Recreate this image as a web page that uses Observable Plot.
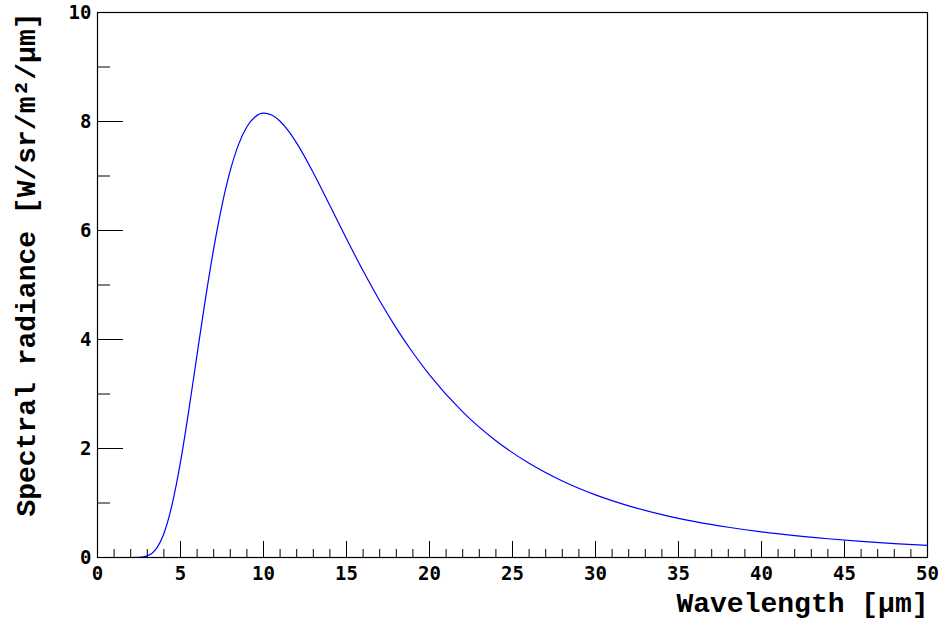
<!DOCTYPE html>
<html>
<head>
<meta charset="utf-8">
<script src="https://cdn.jsdelivr.net/npm/d3@7"></script>
<script src="https://cdn.jsdelivr.net/npm/@observablehq/plot@0.6"></script>
<style>
  html, body { margin: 0; padding: 0; background: #fff; }
  #chart { width: 940px; height: 618px; }
</style>
</head>
<body>
<div id="chart"></div>
<script>
// Data
const wavelength = [0,1,2,2.5,3,3.5,4,4.5,5,5.5,6,6.5,7,7.5,8,8.5,9,9.5,10,10.5,11,11.5,12,13,14,15,16,17,18,19,20,22,24,26,28,30,32,34,36,38,40,42,44,46,48,50];
const radiance   = [0,0,0.0001,0.0026,0.029,0.144,0.44,0.978,1.753,2.70,3.727,4.74,5.668,6.463,7.102,7.58,7.903,8.088,8.154,8.119,8.005,7.827,7.602,7.06,6.458,5.849,5.26,4.711,4.21,3.757,3.353,2.673,2.143,1.728,1.404,1.149,0.948,0.787,0.659,0.555,0.47,0.401,0.344,0.296,0.256,0.223];

const xMajor = [0,5,10,15,20,25,30,35,40,45,50];
const xMinor = d3.range(1, 50).filter(v => v % 5 !== 0);
const yMajor = [0,2,4,6,8,10];
const yMinor = [1,3,5,7,9];

const xTitle = "Wavelength [\u03bcm]";
const yTitle = "Spectral radiance [W/sr/m\u00b2/\u03bcm]";

const data = wavelength.map((w, i) => ({w, r: radiance[i]}));

const W = 940, H = 618;
const mL = 97, mR = 13, mT = 12, mB = 61;
const innerW = W - mL - mR, innerH = H - mT - mB;

const tickFont = "DejaVu Sans Mono";
const titleFont = "Liberation Mono";

const chart = Plot.plot({
  width: W,
  height: H,
  marginLeft: mL,
  marginRight: mR,
  marginTop: mT,
  marginBottom: mB,
  style: {background: "#fff", overflow: "visible"},
  x: {domain: [0, 50]},
  y: {domain: [0, 10]},
  marks: [
    // inward ticks
    Plot.ruleX(xMajor, {x: d => d, insetTop: innerH - 16, stroke: "#000", strokeWidth: 1}),
    Plot.ruleX(xMinor, {x: d => d, insetTop: innerH - 8, stroke: "#000", strokeWidth: 1}),
    Plot.ruleY(yMajor, {y: d => d, insetRight: innerW - 26, stroke: "#000", strokeWidth: 1}),
    Plot.ruleY(yMinor, {y: d => d, insetRight: innerW - 13, stroke: "#000", strokeWidth: 1}),
    Plot.axisX(xMajor, {tickSize: 0, tickPadding: 9, tickFormat: d => String(d), fontSize: 19, fontWeight: "bold", fontFamily: tickFont, label: null, fill: "#000"}),
    Plot.axisY(yMajor, {tickSize: 0, tickPadding: 6, tickFormat: d => String(d), fontSize: 19, fontWeight: "bold", fontFamily: tickFont, label: null, fill: "#000"}),
    Plot.line(data, {x: "w", y: "r", stroke: "#0000ff", strokeWidth: 1.2, curve: "monotone-x"}),
    Plot.frame({stroke: "#000", strokeWidth: 1.2}),
    Plot.text([xTitle], {text: d => d, frameAnchor: "bottom-right", textAnchor: "end", dy: 54, dx: 1,
      fontSize: 28, fontWeight: "bold", fontFamily: titleFont, fill: "#000"}),
    Plot.text([yTitle], {text: d => d, frameAnchor: "top-left", textAnchor: "end", rotate: -90, dx: -82, dy: 0,
      fontSize: 28, fontWeight: "bold", fontFamily: titleFont, fill: "#000"})
  ]
});
document.getElementById("chart").appendChild(chart);
</script>
</body>
</html>
